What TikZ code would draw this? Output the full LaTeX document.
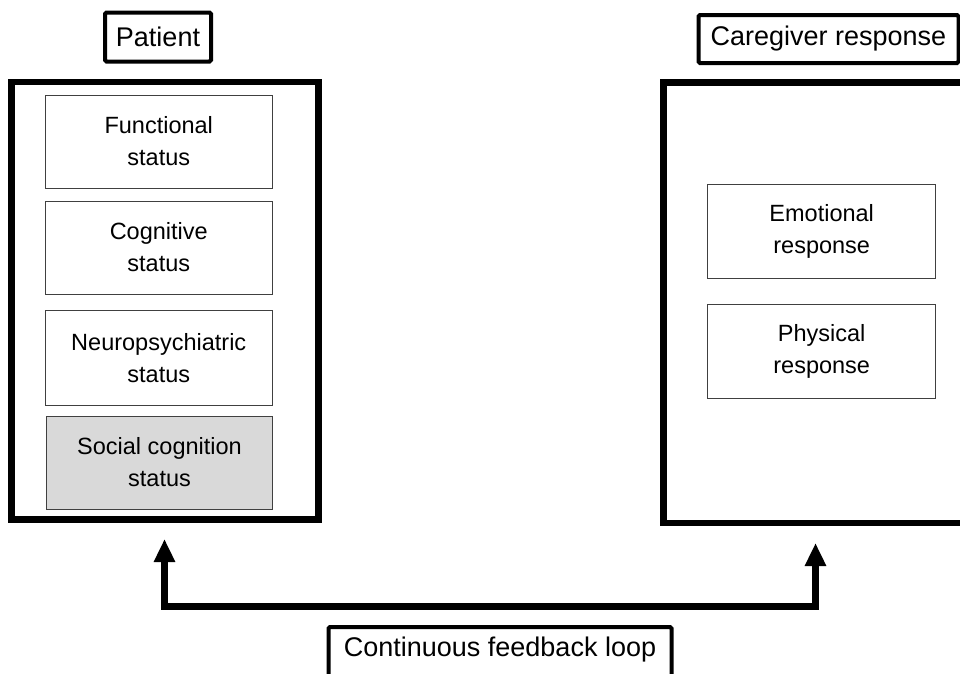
\documentclass[tikz,border=0pt]{standalone}
\usepackage{fontspec}
\setmainfont{Liberation Sans}
\usetikzlibrary{arrows.meta}
\begin{document}
\begin{tikzpicture}[x=1pt,y=-1pt,
  labelbox/.style={draw=black,line width=4pt,rounded corners=1.5pt,inner sep=0pt,
    font=\fontsize{27}{32}\selectfont},
  bigbox/.style={draw=black,line width=6.5pt,inner sep=0pt},
  itembox/.style={draw=black!75,line width=1pt,inner sep=0pt,align=center,
    minimum width=226.5pt,minimum height=93pt,font=\fontsize{23.5}{32}\selectfont},
  loop/.style={line width=6.5pt,{Triangle[length=23pt,width=20pt]}-{Triangle[length=23pt,width=20pt]}}
]
\useasboundingbox (0,0) rectangle (960,673);
\fill[white] (0,0) rectangle (960,673);
% left column
\node[labelbox,minimum width=106pt,minimum height=49pt] (plabel) at (158,37) {Patient};
\node[bigbox,minimum width=307pt,minimum height=437.5pt] (pbox) at (165,300.75) {};
\node[itembox] (func) at (158.75,141.5) {Functional\\status};
\node[itembox] (cogn) at (158.75,247.5) {Cognitive\\status};
\node[itembox,minimum height=95pt] (neuro) at (158.75,358) {Neuropsychiatric\\status};
\node[itembox,fill=black!15] (social) at (159.5,462.5) {Social cognition\\status};
% right column
\node[labelbox,minimum width=260pt,minimum height=48pt] (clabel) at (828.5,39) {Caregiver response};
\node[bigbox,minimum width=310pt,minimum height=440.5pt] (cbox) at (818.5,302.75) {};
\node[itembox,minimum width=228.5pt,minimum height=94pt] (emo) at (821.7,231.3) {Emotional\\response};
\node[itembox,minimum width=228.5pt,minimum height=94pt] (phys) at (821.7,351.7) {Physical\\response};
% feedback loop
\node[labelbox,minimum width=343pt,minimum height=58pt,anchor=north] (floop) at (500,625) {};
\node[font=\fontsize{27}{32}\selectfont] (floopt) at (500,650) {Continuous feedback loop};
\coordinate (ptip) at (164.5,539);
\coordinate (ctip) at (815.5,543);
\draw[loop] (ptip) -- (ptip |- 0,606.5) -- (ctip |- 0,606.5) -- (ctip);
\end{tikzpicture}
\end{document}
